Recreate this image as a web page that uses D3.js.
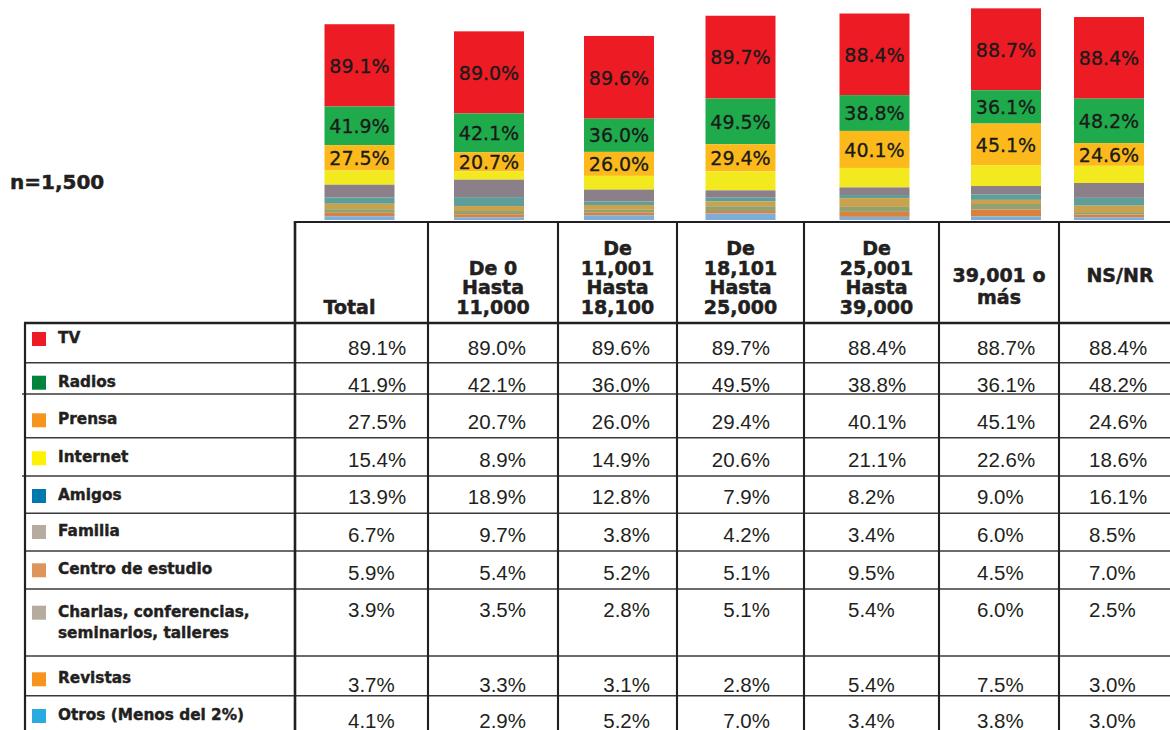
<!DOCTYPE html>
<html>
<head>
<meta charset="utf-8">
<script src="https://cdn.jsdelivr.net/npm/d3@7"></script>
<style>
  html, body { margin: 0; padding: 0; background: #fff; }
  svg { display: block; }
</style>
</head>
<body>
<svg id="chart" width="1170" height="730"></svg>
<script>
// ---------------- DATA ----------------
const categories = ["Total", "De 0 Hasta 11,000", "De 11,001 Hasta 18,100", "De 18,101 Hasta 25,000", "De 25,001 Hasta 39,000", "39,001 o más", "NS/NR"];
const headerLines = [["Total"], ["De 0", "Hasta", "11,000"], ["De", "11,001", "Hasta", "18,100"], ["De", "18,101", "Hasta", "25,000"], ["De", "25,001", "Hasta", "39,000"], ["39,001 o", "más"], ["NS/NR"]];
const seriesNames = ["TV", "Radios", "Prensa", "Internet", "Amigos", "Familia", "Centro de estudio", "Charlas, conferencias, seminarios, talleres", "Revistas", "Otros (Menos del 2%)"];
const tv       = [89.1, 89.0, 89.6, 89.7, 88.4, 88.7, 88.4];
const radios   = [41.9, 42.1, 36.0, 49.5, 38.8, 36.1, 48.2];
const prensa   = [27.5, 20.7, 26.0, 29.4, 40.1, 45.1, 24.6];
const internet = [15.4, 8.9, 14.9, 20.6, 21.1, 22.6, 18.6];
const amigos   = [13.9, 18.9, 12.8, 7.9, 8.2, 9.0, 16.1];
const familia  = [6.7, 9.7, 3.8, 4.2, 3.4, 6.0, 8.5];
const centro   = [5.9, 5.4, 5.2, 5.1, 9.5, 4.5, 7.0];
const charlas  = [3.9, 3.5, 2.8, 5.1, 5.4, 6.0, 2.5];
const revistas = [3.7, 3.3, 3.1, 2.8, 5.4, 7.5, 3.0];
const otros    = [4.1, 2.9, 5.2, 7.0, 3.4, 3.8, 3.0];
const nLabel = "n=1,500";
const labeledSeries = 3; // first three series carry labels in bars

// ---------------- STYLE / LAYOUT ----------------
const seriesValues = [tv, radios, prensa, internet, amigos, familia, centro, charlas, revistas, otros];
const barColors = ["#ed1c24", "#1faa4c", "#fbb91c", "#f2ea1e", "#8b8089", "#5f9d98", "#c9a24e", "#93a070", "#d8823e", "#7eaed8"];
const legendColors = ["#ed1c24", "#00843d", "#f7941d", "#fff200", "#0079b0", "#b5ab9e", "#de955b", "#b5ab9e", "#f7941d", "#29abe2"];
const colEdges = [295, 428, 558, 677, 804, 939, 1059, 1181];
const barShift = [-2, -4, 1.5, 0, 3, 7, -11];
const rowEdges = [323, 362.7, 394, 437.7, 476, 513.3, 551, 589, 656, 695.7, 735];
const labelBase = [20, 24, 30.3, 24.6, 24, 22.7, 23.3, 27.7, 27.3, 24.3];
const valueBase = [31.5, 29, 35, 29, 28, 28.4, 29, 27.7, 35.7, 32.6];
// per-column value alignment: [anchor, offset from column edge]
const valueAlign = [["start", 53], ["end", -32], ["end", -27], ["end", -34], ["start", 44], ["start", 38], ["start", 30]];
const ink = "#231f20";

const svg = d3.select("#chart");

// scales
const x = d3.scaleOrdinal().domain(categories).range(categories.map((c, i) => (colEdges[i] + colEdges[i + 1]) / 2));
const xBar = d3.scaleOrdinal().domain(categories).range(categories.map((c, i) => x(c) + barShift[i]));
const barBottom = 220;
const y = d3.scaleLinear().domain([0, 100]).range([barBottom, barBottom - 92.3]);
const barW = 70;

// stacked data
const stackRows = categories.map((c, i) => {
  const o = { cat: c };
  seriesNames.forEach((s, k) => o[s] = seriesValues[k][i]);
  return o;
});
const stack = d3.stack().keys(seriesNames).order(d3.stackOrderReverse)(stackRows);

const gBars = svg.append("g");
stack.forEach(layer => {
  const k = seriesNames.indexOf(layer.key);
  gBars.selectAll(null).data(layer).join("rect")
    .attr("x", d => xBar(d.data.cat) - barW / 2)
    .attr("width", barW)
    .attr("y", d => y(d[1]))
    .attr("height", d => y(d[0]) - y(d[1]))
    .attr("fill", barColors[k]);
  if (k < labeledSeries) {
    gBars.selectAll(null).data(layer).join("text")
      .attr("x", d => xBar(d.data.cat))
      .attr("y", d => (y(d[0]) + y(d[1])) / 2)
      .attr("dy", "0.38em")
      .attr("text-anchor", "middle")
      .attr("font-family", "DejaVu Sans")
      .attr("font-size", 19)
      .attr("fill", "#1a1a1a")
      .attr("stroke", "#1a1a1a").attr("stroke-width", 0.3)
      .text(d => seriesValues[k][categories.indexOf(d.data.cat)].toFixed(1) + "%");
  }
});

// n label
svg.append("text").attr("x", 10).attr("y", 189)
  .attr("font-family", "DejaVu Sans").attr("font-weight", "bold").attr("font-size", 20)
  .attr("fill", ink).attr("stroke", ink).attr("stroke-width", 0.5).text(nLabel);

// header text
const gHead = svg.append("g").attr("font-family", "DejaVu Sans").attr("font-weight", "bold")
  .attr("font-size", 19).attr("fill", ink).attr("stroke", ink).attr("stroke-width", 0.5)
  .attr("text-anchor", "middle");
headerLines.forEach((lines, i) => {
  const cx = x(categories[i]) + (i === 0 ? -12 : i === 4 ? 5 : 0);
  let first, step;
  if (lines.length === 2 || (lines.length === 1 && i > 0)) { first = 282; step = 21.5; }
  else { step = 19.6; first = 314 - step * (lines.length - 1); }
  lines.forEach((ln, j) => {
    gHead.append("text").attr("x", cx).attr("y", first + j * step).text(ln);
  });
});

// table lines
const gLines = svg.append("g").attr("stroke", ink);
gLines.append("line").attr("x1", colEdges[0] - 1).attr("x2", 1170).attr("y1", 222).attr("y2", 222).attr("stroke-width", 2.2);
gLines.append("line").attr("x1", 24).attr("x2", 1170).attr("y1", rowEdges[0]).attr("y2", rowEdges[0]).attr("stroke-width", 2.6);
rowEdges.slice(1, -1).forEach((ry, i) => {
  gLines.append("line").attr("x1", (i === 1 || i === 3) ? 22 : 25).attr("x2", 1170)
    .attr("y1", ry).attr("y2", ry).attr("stroke-width", 1.6).attr("stroke", "#3a3a3a");
});
gLines.append("line").attr("x1", 25).attr("x2", 25).attr("y1", rowEdges[0]).attr("y2", 730).attr("stroke-width", 2.2);
colEdges.slice(0, -1).forEach((cx, i) => {
  gLines.append("line").attr("x1", cx).attr("x2", cx).attr("y1", 221).attr("y2", 730)
    .attr("stroke-width", i === 0 ? 2.6 : 2.1);
});

// legend labels
const gLab = svg.append("g").attr("font-family", "DejaVu Sans").attr("font-weight", "bold")
  .attr("font-size", 15.3).attr("fill", ink).attr("stroke", ink).attr("stroke-width", 0.4);
seriesNames.forEach((name, r) => {
  const base = rowEdges[r] + labelBase[r];
  gLab.append("rect").attr("x", 32).attr("y", base - 11).attr("width", 14).attr("height", 14)
    .attr("fill", legendColors[r]).attr("stroke", "none");
  const parts = name.startsWith("Charlas") ? ["Charlas, conferencias,", "seminarios, talleres"] : [name];
  parts.forEach((p, j) => {
    gLab.append("text").attr("x", 58).attr("y", base + j * 21).text(p);
  });
});

// values
const gVal = svg.append("g").attr("font-family", "Liberation Sans, Arial, sans-serif")
  .attr("font-size", 20.5).attr("fill", ink);
seriesValues.forEach((vals, r) => {
  vals.forEach((v, c) => {
    const [anchor, off] = valueAlign[c];
    const edge = anchor === "start" ? colEdges[c] : colEdges[c + 1];
    gVal.append("text")
      .attr("x", edge + off)
      .attr("y", rowEdges[r] + valueBase[r])
      .attr("text-anchor", anchor)
      .text(v.toFixed(1) + "%");
  });
});
</script>
</body>
</html>
